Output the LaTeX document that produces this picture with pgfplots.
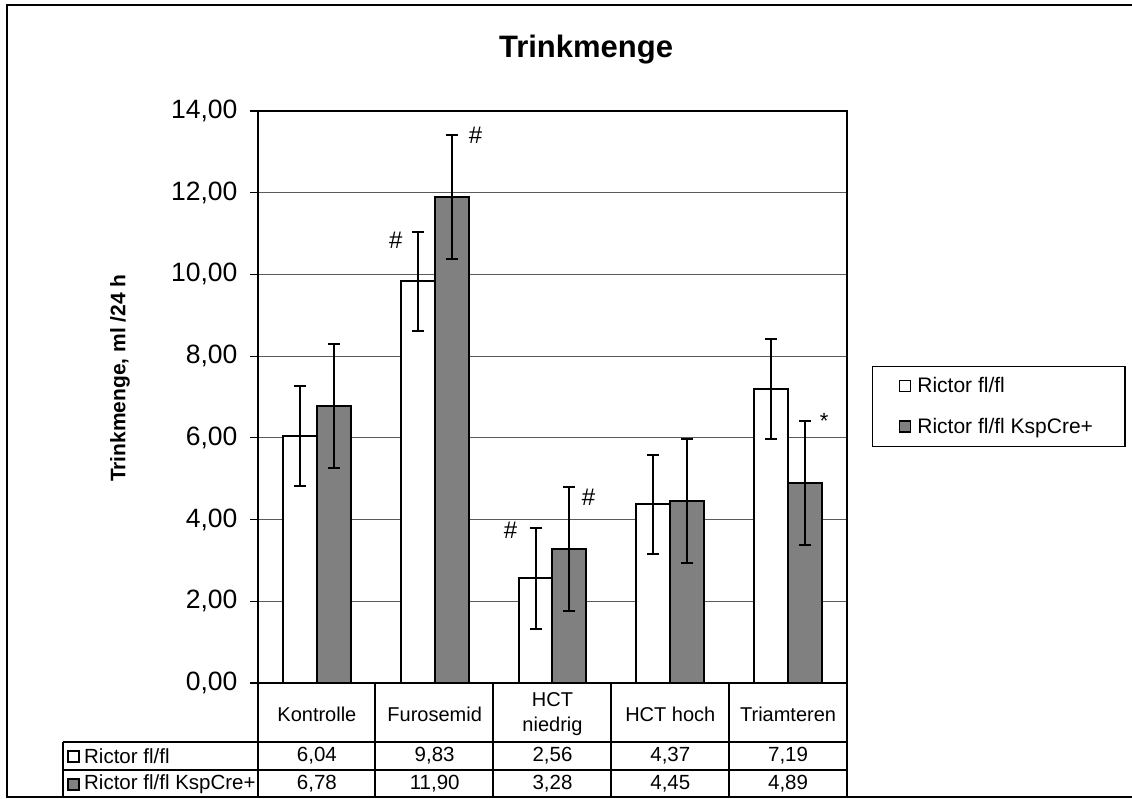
\documentclass[border=0pt]{standalone}
\usepackage{fontspec}
\setmainfont{Liberation Sans}
\usepackage{pgfplots}
\usepackage{pgfplotstable}
\pgfplotsset{compat=1.18}
\usetikzlibrary{calc,backgrounds}
\definecolor{bargray}{RGB}{128,128,128}
\definecolor{gridgray}{RGB}{90,90,90}

\pgfplotstableread{
x xa a ea xb b eb
0 -0.1441 6.04 1.23 0.1441 6.78 1.52
1 0.8559 9.83 1.22 1.1441 11.90 1.52
2 1.8559 2.56 1.24 2.1441 3.28 1.52
3 2.8559 4.37 1.22 3.1441 4.45 1.52
4 3.8559 7.19 1.22 4.1441 4.89 1.52
}\data

\begin{document}
\begin{tikzpicture}
\begin{axis}[
  name=ax, at={(0,0)}, anchor=south west,
  scale only axis, width=589pt, height=572pt,
  xmin=-0.5, xmax=4.5, ymin=0, ymax=14,
  axis line style={line width=2pt},
  ytick={0,2,...,14},
  xtick={0,...,4},
  xticklabels={Kontrolle,Furosemid,{HCT\\niedrig},HCT hoch,Triamteren},
  ymajorgrids,
  major grid style={gridgray, line width=1.2pt},
  tick align=outside, tick pos=left, major tick length=8pt,
  xtick style={draw=none},
  ytick style={line width=1.2pt, black},
  yticklabel style={font=\fontsize{26.5}{26.5}\selectfont, xshift=-9pt},
  xticklabel style={font=\fontsize{20}{25}\selectfont, align=center, anchor=center, yshift=-23pt},
  /pgf/number format/use comma,
  /pgf/number format/fixed,
  /pgf/number format/fixed zerofill,
  /pgf/number format/precision=2,
  /pgf/number format/assume math mode=true,
  title={Trinkmenge},
  title style={font=\bfseries\fontsize{31}{31}\selectfont, at={(axis description cs:0.557,1.0839)}, anchor=base},
  ylabel={Trinkmenge, ml /24 h},
  ylabel style={font=\bfseries\fontsize{21}{21}\selectfont, at={(axis description cs:-0.2343,0.533)}, anchor=center},
  clip=false,
  legend cell align=left,
  legend style={at={(1.0424,0.554)}, anchor=north west, draw=black, line width=1.2pt,
    font=\fontsize{21}{21}\selectfont, inner xsep=26pt, inner ysep=8pt,
    nodes={inner xsep=6pt, inner ysep=3pt}, row sep=18pt},
]
\addplot[ybar, bar width=34pt, bar shift=0pt, fill=white, draw=black, line width=2pt,
  legend image code/.code={\draw[fill=white, draw=black, line width=1.8pt] (0pt,-5.5pt) rectangle (11pt,5.5pt);}]
  table[x=xa, y=a] {\data};
\addlegendentry{Rictor fl/fl}
\addplot[ybar, bar width=34pt, bar shift=0pt, fill=bargray, draw=black, line width=2pt,
  legend image code/.code={\draw[fill=bargray, draw=black, line width=1.8pt] (0pt,-5.5pt) rectangle (11pt,5.5pt);}]
  table[x=xb, y=b] {\data};
\addlegendentry{Rictor fl/fl KspCre+}

% error bars on top of the bars
\addplot[forget plot, draw=none, mark=none, line width=2pt,
  error bars/.cd, y dir=both, y explicit,
  error bar style={solid, line width=2pt, draw=black},
  error mark options={rotate=90, mark size=6pt, line width=2pt, draw=black}]
  table[x=xa, y=a, y error=ea] {\data};
\addplot[forget plot, draw=none, mark=none, line width=2pt,
  error bars/.cd, y dir=both, y explicit,
  error bar style={solid, line width=2pt, draw=black},
  error mark options={rotate=90, mark size=6pt, line width=2pt, draw=black}]
  table[x=xb, y=b, y error=eb] {\data};

% data table rows
\addplot[draw=none, mark=none, forget plot, nodes near coords, point meta=explicit,
  every node near coord/.style={anchor=center, yshift=-73pt, font=\fontsize{20.5}{20.5}\selectfont, black}]
  table[x=x, y expr=0, meta=a] {\data};
\addplot[draw=none, mark=none, forget plot, nodes near coords, point meta=explicit,
  every node near coord/.style={anchor=center, yshift=-101pt, font=\fontsize{20.5}{20.5}\selectfont, black}]
  table[x=x, y expr=0, meta=b] {\data};

% significance marks
\node[font=\fontsize{24}{24}\selectfont] at (axis cs:0.669,10.84) {\#};
\node[font=\fontsize{24}{24}\selectfont] at (axis cs:1.347,13.41) {\#};
\node[font=\fontsize{24}{24}\selectfont] at (axis cs:1.644,3.745) {\#};
\node[font=\fontsize{24}{24}\selectfont] at (axis cs:2.305,4.55) {\#};
\node[font=\fontsize{22}{22}\selectfont, anchor=base] at (axis cs:4.305,6.22) {*};
\end{axis}

\begin{scope}[shift={($(ax.south west)+(-258pt,-116pt)$)}, x=1pt, y=1pt]
\begin{scope}[on background layer]
\fill[white] (0,0) rectangle (1132,799);
\end{scope}
\draw[line width=1.5pt] (1140,794) -- (7,794) -- (7,2) -- (1140,2);
% table grid
\begin{scope}[line width=1.3pt]
\foreach \xx in {258,375,493,611,729,847} \draw (\xx,116) -- (\xx,2);
\draw (63,57) -- (63,2);
\draw (63,57) -- (847,57);
\draw (63,29) -- (847,29);
\draw[fill=white, line width=1.8pt] (68,37) rectangle (79,48);
\draw[fill=bargray, line width=1.8pt] (68,9) rectangle (79,20);
\end{scope}
\node[anchor=west, inner sep=0pt, font=\fontsize{20.5}{20.5}\selectfont] at (84,43) {Rictor fl/fl};
\node[anchor=west, inner sep=0pt, font=\fontsize{20.5}{20.5}\selectfont] at (84,15) {Rictor fl/fl KspCre+};
\pgfresetboundingbox
\path[use as bounding box] (0,0) rectangle (1132,799);
\end{scope}
\end{tikzpicture}
\end{document}
